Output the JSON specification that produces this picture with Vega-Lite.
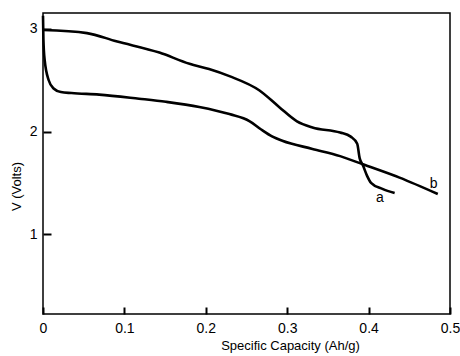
{
  "$schema": "https://vega.github.io/schema/vega-lite/v6.json",
  "autosize": "none",
  "width": 407,
  "height": 301,
  "padding": {"left": 43, "top": 13, "right": 10, "bottom": 42},
  "background": "white",
  "config": {
    "view": {"stroke": "black", "strokeWidth": 1.5},
    "font": "Liberation Sans",
    "axis": {"grid": false, "ticks": true, "domain": false, "labelColor": "black", "titleColor": "black", "labelFont": "Liberation Sans", "titleFont": "Liberation Sans", "labelFontSize": 14, "titleFontSize": 13, "titleFontWeight": "normal"}
  },
  "datasets": {
    "curves": [
      {"c": "a", "x": 0.0, "v": 2.99},
      {"c": "a", "x": 0.054, "v": 2.96},
      {"c": "a", "x": 0.09, "v": 2.88},
      {"c": "a", "x": 0.143, "v": 2.77},
      {"c": "a", "x": 0.18, "v": 2.66},
      {"c": "a", "x": 0.204, "v": 2.61},
      {"c": "a", "x": 0.229, "v": 2.54},
      {"c": "a", "x": 0.266, "v": 2.4},
      {"c": "a", "x": 0.29, "v": 2.24},
      {"c": "a", "x": 0.312, "v": 2.1},
      {"c": "a", "x": 0.331, "v": 2.04},
      {"c": "a", "x": 0.365, "v": 1.99},
      {"c": "a", "x": 0.378, "v": 1.95},
      {"c": "a", "x": 0.386, "v": 1.88},
      {"c": "a", "x": 0.389, "v": 1.74},
      {"c": "a", "x": 0.393, "v": 1.67},
      {"c": "a", "x": 0.398, "v": 1.57},
      {"c": "a", "x": 0.403, "v": 1.5},
      {"c": "a", "x": 0.417, "v": 1.44},
      {"c": "a", "x": 0.432, "v": 1.4},
      {"c": "b", "x": 0.0, "v": 3.13},
      {"c": "b", "x": 0.0005, "v": 2.9},
      {"c": "b", "x": 0.002, "v": 2.7},
      {"c": "b", "x": 0.007, "v": 2.5},
      {"c": "b", "x": 0.013, "v": 2.42},
      {"c": "b", "x": 0.022, "v": 2.385},
      {"c": "b", "x": 0.035, "v": 2.375},
      {"c": "b", "x": 0.069, "v": 2.36},
      {"c": "b", "x": 0.118, "v": 2.32},
      {"c": "b", "x": 0.151, "v": 2.29},
      {"c": "b", "x": 0.192, "v": 2.24},
      {"c": "b", "x": 0.229, "v": 2.17},
      {"c": "b", "x": 0.254, "v": 2.1},
      {"c": "b", "x": 0.268, "v": 2.02},
      {"c": "b", "x": 0.282, "v": 1.95},
      {"c": "b", "x": 0.294, "v": 1.91},
      {"c": "b", "x": 0.331, "v": 1.83},
      {"c": "b", "x": 0.365, "v": 1.76},
      {"c": "b", "x": 0.393, "v": 1.68},
      {"c": "b", "x": 0.438, "v": 1.55},
      {"c": "b", "x": 0.485, "v": 1.39}
    ],
    "labels": [
      {"c": "a", "x": 0.414, "v": 1.35},
      {"c": "b", "x": 0.48, "v": 1.49}
    ]
  },
  "resolve": {"axis": {"x": "independent", "y": "independent"}},
  "layer": [
    {
      "data": {"name": "curves"},
      "mark": {"type": "line", "color": "black", "strokeWidth": 2.6, "interpolate": "monotone"},
      "encoding": {
        "x": {"field": "x", "type": "quantitative", "scale": {"domain": [0, 0.5], "nice": false, "zero": false},
          "axis": {"title": "Specific  Capacity  (Ah/g)", "values": [0, 0.1, 0.2, 0.3, 0.4, 0.5], "format": ".1~f", "ticks": true, "tickSize": 7, "tickColor": "black", "tickWidth": 2, "offset": -7, "labelPadding": 7, "titlePadding": 4, "titleX": 247, "labelFlush": false, "zindex": 1}},
        "y": {"field": "v", "type": "quantitative", "scale": {"domain": [0.22, 3.156], "nice": false, "zero": false},
          "axis": {"title": "V (Volts)", "values": [1, 2, 3], "format": "d", "ticks": true, "tickSize": 8, "tickColor": "black", "tickWidth": 2, "offset": -8, "labelPadding": 6, "titlePadding": 6, "titleY": 173, "zindex": 1}},
        "detail": {"field": "c"}
      }
    },
    {
      "data": {"name": "labels"},
      "mark": {"type": "text", "color": "black", "fontSize": 14, "font": "Liberation Sans"},
      "encoding": {
        "x": {"field": "x", "type": "quantitative", "axis": null},
        "y": {"field": "v", "type": "quantitative", "axis": null},
        "text": {"field": "c"}
      }
    }
  ]
}
